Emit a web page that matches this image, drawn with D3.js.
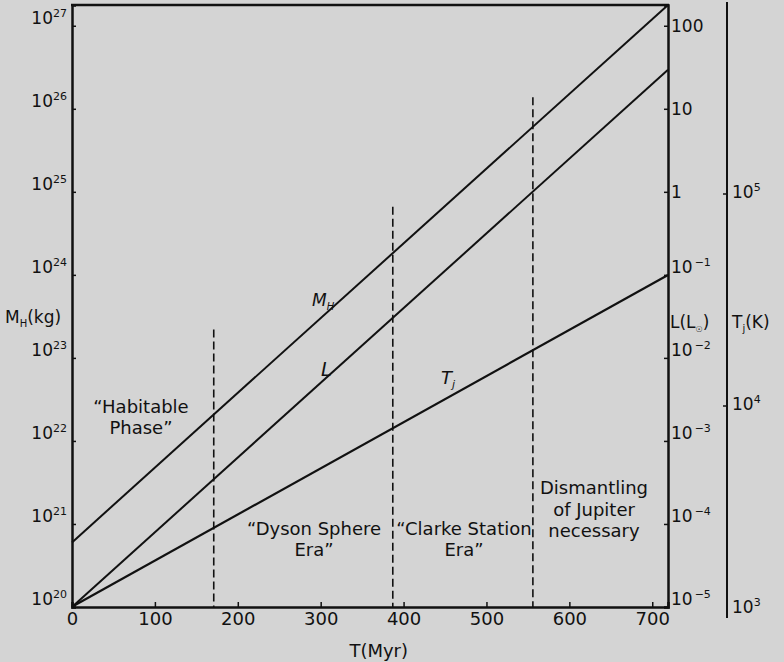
<!DOCTYPE html>
<html>
<head>
<meta charset="utf-8">
<script src="https://cdn.jsdelivr.net/npm/d3@7/dist/d3.min.js"></script>
<style>
  html, body { margin: 0; padding: 0; background: #d4d4d4; }
  svg { display: block; }
  text { font-family: "DejaVu Sans", sans-serif; fill: #111; }
</style>
</head>
<body>
<svg id="chart" width="784" height="662"></svg>
<script>
// ---- data ----
const times = [0, 719];                 // T (Myr)
const massHab = [6.0e20, 1.78e27];      // M_H (kg)
const luminosity = [1e-5, 29.5];        // L (L_sun)
const jupiterTemp = [1130, 41500];      // T_J (K)
const eraBoundaries = [171, 387, 556];  // T (Myr) of dashed lines
const eraTopMass = [2.2e23, 6.6e24, 1.38e26]; // upper end of dashed lines (kg scale)
const xTicks = [0, 100, 200, 300, 400, 500, 600, 700];
const massExps = [20, 21, 22, 23, 24, 25, 26, 27];
const lumTicks = [100, 10, 1, 1e-1, 1e-2, 1e-3, 1e-4, 1e-5];
const lumLabels = ["100", "10", "1", "10|−1", "10|−2", "10|−3", "10|−4", "10|−5"];
const tempTicks = [1e3, 1e4, 1e5];
const tempLabels = ["10|3", "10|4", "10|5"];

// ---- layout ----
const L = 72, R = 668, TOP = 5, BOT = 607, TAX = 727;
const svg = d3.select("#chart");
svg.append("rect").attr("width", 784).attr("height", 662).attr("fill", "#d4d4d4");

const x = d3.scaleLinear().domain([0, 719]).range([L, R]);
const yM = d3.scaleLog().domain([1e20, Math.pow(10, 27.25)]).range([BOT, TOP]);
const yL = d3.scaleLog().domain([1e-5, Math.pow(10, 2.25)]).range([BOT, TOP]);
const yT = d3.scaleLog().domain([1e3, 1e5]).range([618, 194]);

const ink = "#111";

// frame top
svg.append("line").attr("x1", L - 1).attr("x2", R + 1).attr("y1", TOP).attr("y2", TOP)
  .attr("stroke", ink).attr("stroke-width", 2.5);

// left axis (mass)
const axL = d3.axisLeft(yM).tickValues(massExps.map(e => Math.pow(10, e)))
  .tickSize(-4).tickFormat(() => "");
const gL = svg.append("g").attr("transform", `translate(${L},0)`).call(axL);
gL.select(".domain").attr("stroke", ink).attr("stroke-width", 2.5);
gL.selectAll(".tick line").attr("stroke", ink).attr("stroke-width", 1.5);
massExps.forEach(e => {
  const t = svg.append("text").attr("x", L - 5).attr("y", yM(Math.pow(10, e)) - 2)
    .attr("text-anchor", "end").style("font-size", "17px");
  t.append("tspan").text("10");
  t.append("tspan").attr("dy", -7).style("font-size", "11px").text(e);
});

// bottom axis
const axB = d3.axisBottom(x).tickValues(xTicks).tickSize(-5).tickPadding(5).tickFormat(d => d);
const gB = svg.append("g").attr("transform", `translate(0,${BOT})`).call(axB);
gB.select(".domain").attr("stroke", ink).attr("stroke-width", 2.5);
gB.selectAll(".tick line").attr("stroke", ink).attr("stroke-width", 1.5);
gB.selectAll(".tick text").style("font-size", "18px").style("font-family", "DejaVu Sans, sans-serif")
  .attr("fill", ink);

// right axis (luminosity)
const axR = d3.axisRight(yL).tickValues(lumTicks).tickSize(-4).tickFormat(() => "");
const gR = svg.append("g").attr("transform", `translate(${R},0)`).call(axR);
gR.select(".domain").attr("stroke", ink).attr("stroke-width", 2.5);
gR.selectAll(".tick line").attr("stroke", ink).attr("stroke-width", 1.5);
lumTicks.forEach((v, i) => {
  const parts = lumLabels[i].split("|");
  const yy = yL(v);
  const t = svg.append("text").attr("x", R + 3).style("font-size", "17px");
  if (parts.length === 1) {
    t.attr("y", yy + 6).text(parts[0]);
  } else {
    t.attr("y", yy - 2);
    t.append("tspan").text(parts[0]);
    t.append("tspan").attr("dy", -7).attr("dx", 2).style("font-size", "11px").text(parts[1]);
  }
});

// far right axis (Jupiter temperature)
svg.append("line").attr("x1", TAX).attr("x2", TAX).attr("y1", 2).attr("y2", 618)
  .attr("stroke", ink).attr("stroke-width", 2);
tempTicks.forEach((v, i) => {
  const yy = yT(v);
  if (i > 0) {
    svg.append("line").attr("x1", TAX - 4).attr("x2", TAX).attr("y1", yy).attr("y2", yy)
      .attr("stroke", ink).attr("stroke-width", 1.5);
  }
  const parts = tempLabels[i].split("|");
  const t = svg.append("text").attr("x", TAX + 5).attr("y", yy + (i === 0 ? -5 : 4)).style("font-size", "17px");
  t.append("tspan").text(parts[0]);
  t.append("tspan").attr("dy", -7).style("font-size", "11px").text(parts[1]);
});

// axis titles
const mt = svg.append("text").attr("x", 5).attr("y", 323).style("font-size", "17px");
mt.append("tspan").text("M");
mt.append("tspan").attr("dy", 4).style("font-size", "10px").text("H");
mt.append("tspan").attr("dy", -4).text("(kg)");

const lt = svg.append("text").attr("x", 670).attr("y", 328).style("font-size", "17px");
lt.append("tspan").text("L(L");
lt.append("tspan").attr("dy", 4).style("font-size", "8px").text("☉");
lt.append("tspan").attr("dy", -4).text(")");

const tt = svg.append("text").attr("x", 732).attr("y", 328).style("font-size", "17px");
tt.append("tspan").text("T");
tt.append("tspan").attr("dy", 4).style("font-size", "10px").text("j");
tt.append("tspan").attr("dy", -4).text("(K)");

svg.append("text").attr("x", x(370)).attr("y", 657).attr("text-anchor", "middle")
  .style("font-size", "18px").text("T(Myr)");

// dashed era boundaries
eraBoundaries.forEach((t, i) => {
  svg.append("line").attr("x1", x(t)).attr("x2", x(t))
    .attr("y1", yM(eraTopMass[i])).attr("y2", BOT)
    .attr("stroke", ink).attr("stroke-width", 1.6).attr("stroke-dasharray", "8,4");
});

// curves
const lineM = d3.line().x((d, i) => x(times[i])).y(d => yM(d));
const lineL = d3.line().x((d, i) => x(times[i])).y(d => yL(d));
const lineT = d3.line().x((d, i) => x(times[i])).y(d => yT(d));
svg.append("path").attr("d", lineM(massHab)).attr("fill", "none").attr("stroke", ink).attr("stroke-width", 2);
svg.append("path").attr("d", lineL(luminosity)).attr("fill", "none").attr("stroke", ink).attr("stroke-width", 2);
svg.append("path").attr("d", lineT(jupiterTemp)).attr("fill", "none").attr("stroke", ink).attr("stroke-width", 2.2);

// curve labels
const ml = svg.append("text").attr("x", 312).attr("y", 306).style("font-size", "17px").style("font-style", "italic");
ml.append("tspan").text("M");
ml.append("tspan").attr("dy", 4).style("font-size", "10px").text("H");
svg.append("text").attr("x", 321).attr("y", 376).style("font-size", "19px").style("font-style", "italic").text("L");
const tl = svg.append("text").attr("x", 441).attr("y", 384).style("font-size", "18px").style("font-style", "italic");
tl.append("tspan").text("T");
tl.append("tspan").attr("dy", 4).style("font-size", "11px").text("j");

// era annotations
function block(cx, lines, y0, dy) {
  lines.forEach((s, i) => {
    svg.append("text").attr("x", cx).attr("y", y0 + i * dy).attr("text-anchor", "middle")
      .style("font-size", "18px").text(s);
  });
}
block(141, ["“Habitable", "Phase”"], 413, 21);
block(314, ["“Dyson Sphere", "Era”"], 535, 21);
block(464, ["“Clarke Station", "Era”"], 535, 21);
block(594, ["Dismantling", "of Jupiter", "necessary"], 494, 21.5);
</script>
</body>
</html>
